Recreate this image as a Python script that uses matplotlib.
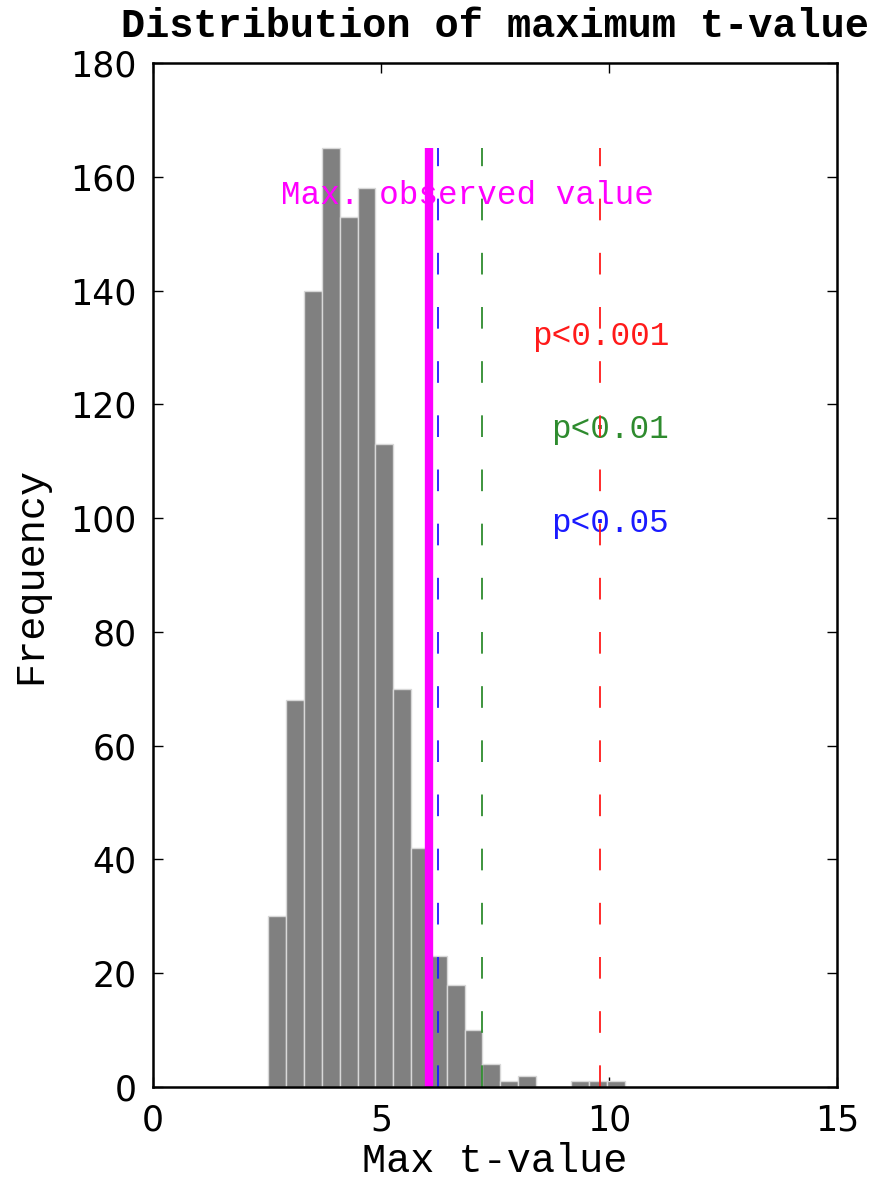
import matplotlib.pyplot as plt
import numpy as np

# histogram of the permutation maxima
counts = [30, 68, 140, 165, 153, 158, 113, 70, 42, 23,
          18, 10, 4, 1, 2, 0, 0, 1, 1, 1]
bin_start = 2.53
bin_width = 0.391

observed_max = 6.06
thresholds = [6.24, 7.21, 9.80]
threshold_labels = ['p<0.05', 'p<0.01', 'p<0.001']
threshold_colors = ['#1a1aff', '#2e8b2e', '#ff1a1a']
label_heights = [99, 115.5, 132]

mono = 'Liberation Mono'

fig = plt.figure(figsize=(8.82, 11.79), dpi=100)
ax = fig.add_axes([0.1735, 0.078, 0.7755, 0.8686])

edges = bin_start + bin_width * np.arange(len(counts) + 1)
ax.bar(edges[:-1], counts, width=bin_width, align='edge',
       color='#808080', edgecolor='#d8d8d8', linewidth=1.0, zorder=2)

top = max(counts)
ax.plot([observed_max, observed_max], [0, top], color='#ff00ff', lw=6, zorder=4,
        solid_capstyle='butt')
for x, c in zip(thresholds, threshold_colors):
    ax.plot([x, x], [0, top], color=c, lw=1.3, dashes=(12, 18), zorder=4)

# labels sit above the bars but under the marker lines
ax.text(6.9, 0.95 * top, 'Max. observed value', color='#ff00ff',
        family=mono, fontsize=23.5, ha='center', va='center', zorder=3)
for lab, c, y in zip(threshold_labels, threshold_colors, label_heights):
    ax.text(11.32, y, lab, color=c, family=mono, fontsize=23.5,
            ha='right', va='center', zorder=3)

ax.set_xlim(0, 15)
ax.set_ylim(0, 180)
ax.set_xticks([0, 5, 10, 15])
ax.set_yticks(np.arange(0, 181, 20))
ax.tick_params(direction='in', length=7, width=1, top=True, right=True,
               labelsize=25, pad=12)
for s in ax.spines.values():
    s.set_linewidth(1.8)
    s.set_zorder(6)

ax.set_xlabel('Max t-value', family=mono, fontsize=29, labelpad=3)
ax.set_ylabel('Frequency', family=mono, fontsize=29, labelpad=15)
ax.set_title('Distribution of maximum t-value', family=mono,
             fontweight='bold', fontsize=29, pad=19)

plt.savefig('out.png', dpi=100)
plt.close(fig)
